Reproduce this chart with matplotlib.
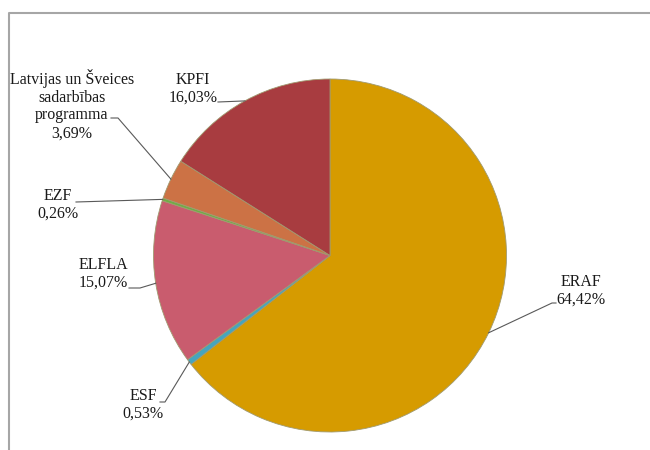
import numpy as np
import matplotlib.pyplot as plt

# Share of funding by source (percent)
labels = ["ERAF", "ESF", "ELFLA", "EZF",
          "Latvijas un Šveices\nsadarbības\nprogramma", "KPFI"]
values = [64.42, 0.53, 15.07, 0.26, 3.69, 16.03]
value_text = ["64,42%", "0,53%", "15,07%", "0,26%", "3,69%", "16,03%"]
colors = ["#D69B00", "#46A5BE", "#C95C6E", "#70AD47", "#CC7245", "#A83C40"]

# layout in pixel coords (y measured from the top of the image)
W, H = 650, 450
cx, cy, r = 330, 255.5, 176.5
text_pos = [(581, 291), (143, 405), (103, 274), (58, 205), (72, 105), (193, 89)]
elbows = [[(552, 303), (556, 303)],
          [(165, 402), (160, 402)],
          [(140, 288), (129, 288)],
          [(76, 202)],
          [(118, 118), (111, 118)],
          [(218, 102)]]

plt.rcParams['font.family'] = ['Liberation Serif', 'DejaVu Serif']

fig = plt.figure(figsize=(6.5, 4.5), dpi=100)
ax = fig.add_axes([0, 0, 1, 1])
ax.set_xlim(0, W)
ax.set_ylim(0, H)
ax.axis('off')

wedges, _ = ax.pie(values, colors=colors, startangle=90, counterclock=False,
                   center=(cx, H - cy), radius=r, frame=True,
                   wedgeprops=dict(edgecolor='#a09a70', linewidth=0.6))
ax.set_xlim(0, W)
ax.set_ylim(0, H)
ax.axis('off')

# chart frame (top and left border)
ax.plot([9, 9, W], [0, H - 13, H - 13], color='#a6a6a6', lw=1.5, clip_on=False)

for w, lab, vt, (tx, ty), el in zip(wedges, labels, value_text, text_pos, elbows):
    mid = np.deg2rad((w.theta1 + w.theta2) / 2)
    ax_pt = (cx + r * np.cos(mid), (H - cy) + r * np.sin(mid))
    xs = [ax_pt[0]] + [p[0] for p in el]
    ys = [ax_pt[1]] + [H - p[1] for p in el]
    ax.plot(xs, ys, color='#595959', lw=0.8)
    ax.text(tx, H - ty, lab + "\n" + vt, ha='center', va='center',
            fontsize=11.5, linespacing=1.15, color='#1a1a1a')

fig.savefig("out.png", dpi=100)
